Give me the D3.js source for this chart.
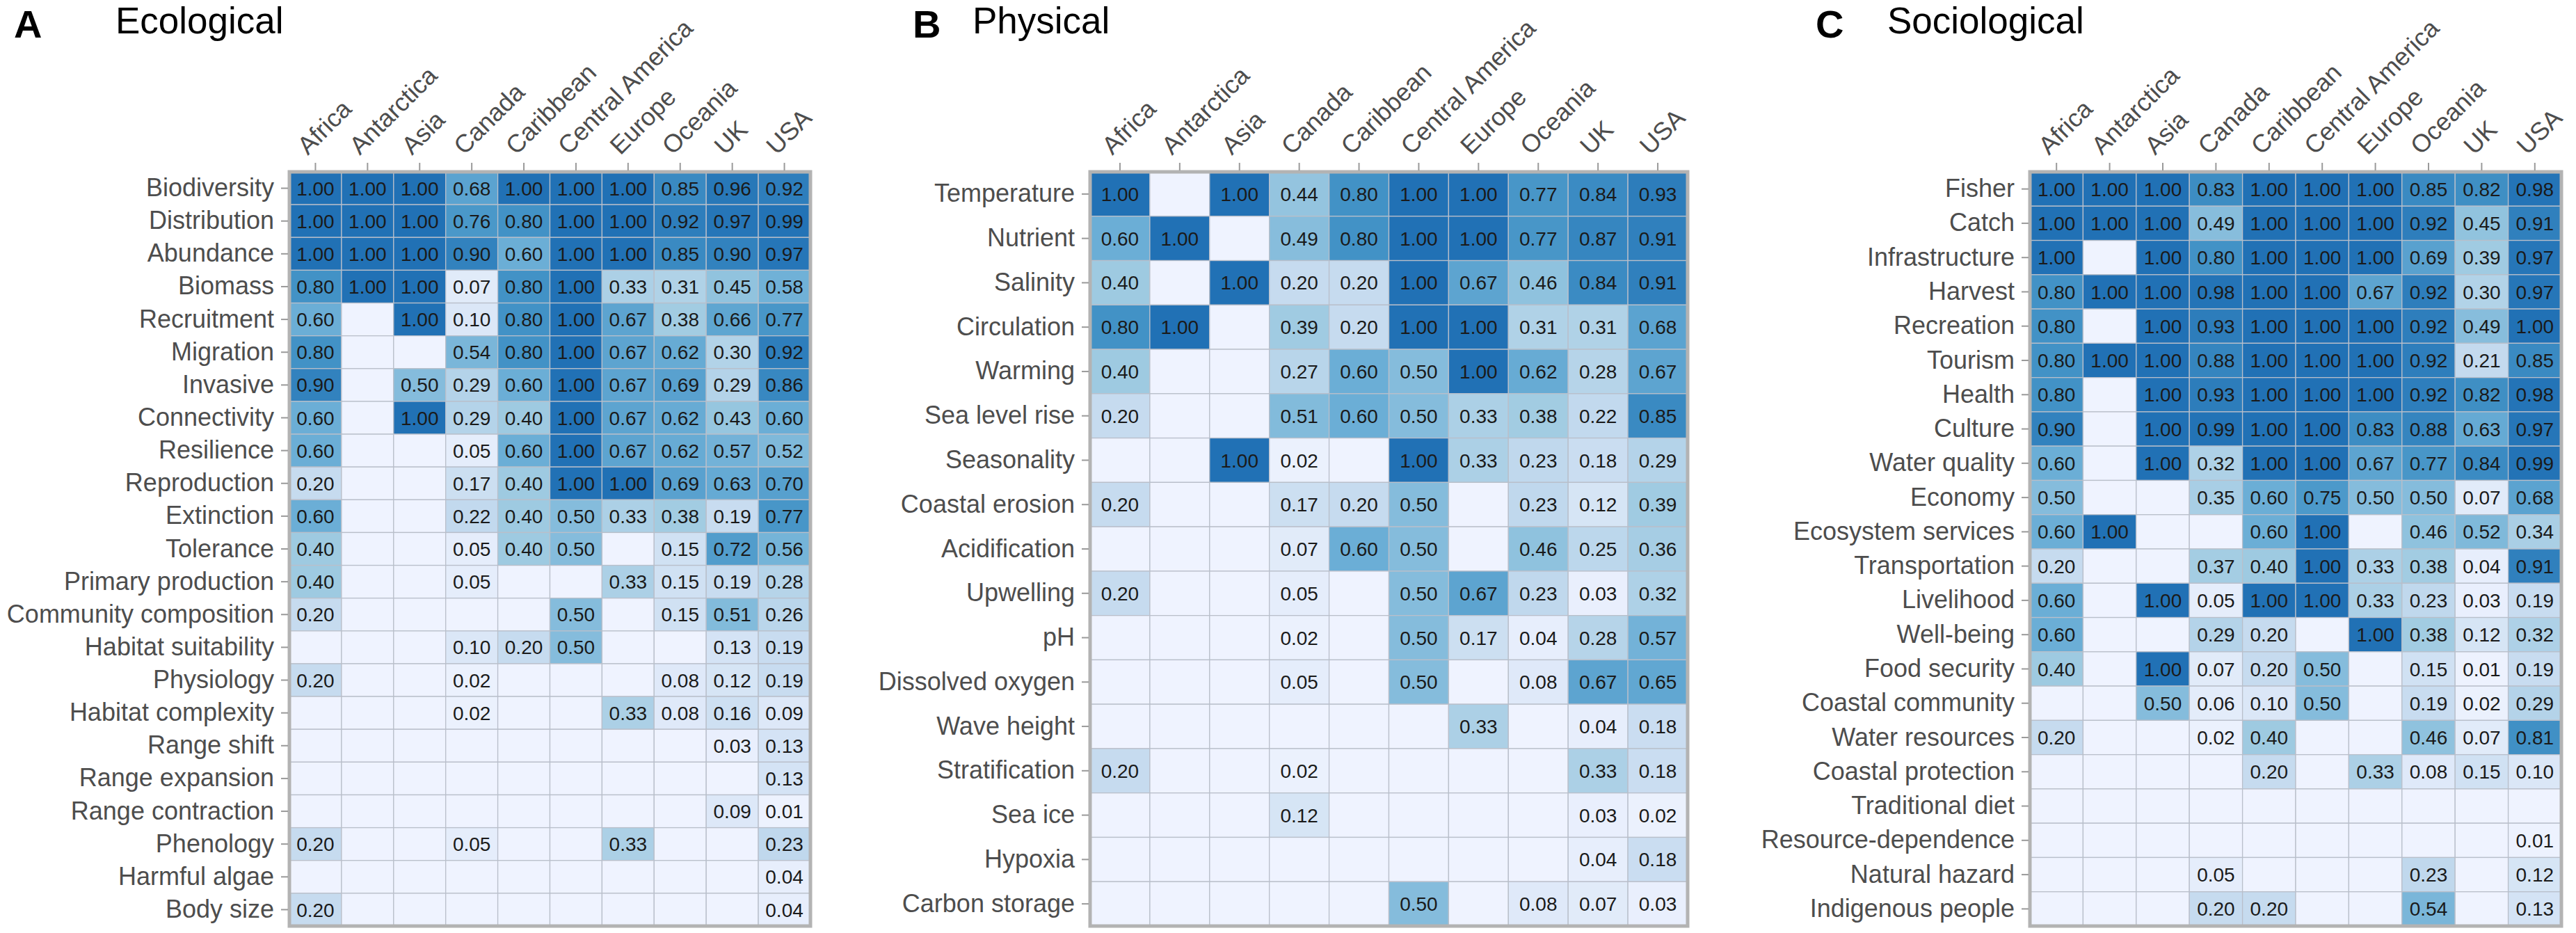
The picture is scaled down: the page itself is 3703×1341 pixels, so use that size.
<!DOCTYPE html>
<html>
<head>
<meta charset="utf-8">
<script src="https://cdn.jsdelivr.net/npm/d3@7"></script>
<style>
  body { margin: 0; background: #fff; }
  text { font-family: "Liberation Sans", Arial, sans-serif; }
</style>
</head>
<body>
<script>
const width = 3703;
const height = 1341;

// ---- data ----
const regions = ["Africa", "Antarctica", "Asia", "Canada", "Caribbean",
                 "Central America", "Europe", "Oceania", "UK", "USA"];

const ecoRows = ["Biodiversity", "Distribution", "Abundance", "Biomass", "Recruitment",
  "Migration", "Invasive", "Connectivity", "Resilience", "Reproduction", "Extinction",
  "Tolerance", "Primary production", "Community composition", "Habitat suitability",
  "Physiology", "Habitat complexity", "Range shift", "Range expansion",
  "Range contraction", "Phenology", "Harmful algae", "Body size"];
const ecoValues = [
  [1.00, 1.00, 1.00, 0.68, 1.00, 1.00, 1.00, 0.85, 0.96, 0.92],
  [1.00, 1.00, 1.00, 0.76, 0.80, 1.00, 1.00, 0.92, 0.97, 0.99],
  [1.00, 1.00, 1.00, 0.90, 0.60, 1.00, 1.00, 0.85, 0.90, 0.97],
  [0.80, 1.00, 1.00, 0.07, 0.80, 1.00, 0.33, 0.31, 0.45, 0.58],
  [0.60, null, 1.00, 0.10, 0.80, 1.00, 0.67, 0.38, 0.66, 0.77],
  [0.80, null, null, 0.54, 0.80, 1.00, 0.67, 0.62, 0.30, 0.92],
  [0.90, null, 0.50, 0.29, 0.60, 1.00, 0.67, 0.69, 0.29, 0.86],
  [0.60, null, 1.00, 0.29, 0.40, 1.00, 0.67, 0.62, 0.43, 0.60],
  [0.60, null, null, 0.05, 0.60, 1.00, 0.67, 0.62, 0.57, 0.52],
  [0.20, null, null, 0.17, 0.40, 1.00, 1.00, 0.69, 0.63, 0.70],
  [0.60, null, null, 0.22, 0.40, 0.50, 0.33, 0.38, 0.19, 0.77],
  [0.40, null, null, 0.05, 0.40, 0.50, null, 0.15, 0.72, 0.56],
  [0.40, null, null, 0.05, null, null, 0.33, 0.15, 0.19, 0.28],
  [0.20, null, null, null, null, 0.50, null, 0.15, 0.51, 0.26],
  [null, null, null, 0.10, 0.20, 0.50, null, null, 0.13, 0.19],
  [0.20, null, null, 0.02, null, null, null, 0.08, 0.12, 0.19],
  [null, null, null, 0.02, null, null, 0.33, 0.08, 0.16, 0.09],
  [null, null, null, null, null, null, null, null, 0.03, 0.13],
  [null, null, null, null, null, null, null, null, null, 0.13],
  [null, null, null, null, null, null, null, null, 0.09, 0.01],
  [0.20, null, null, 0.05, null, null, 0.33, null, null, 0.23],
  [null, null, null, null, null, null, null, null, null, 0.04],
  [0.20, null, null, null, null, null, null, null, null, 0.04]
];

const phyRows = ["Temperature", "Nutrient", "Salinity", "Circulation", "Warming",
  "Sea level rise", "Seasonality", "Coastal erosion", "Acidification", "Upwelling",
  "pH", "Dissolved oxygen", "Wave height", "Stratification", "Sea ice", "Hypoxia",
  "Carbon storage"];
const phyValues = [
  [1.00, null, 1.00, 0.44, 0.80, 1.00, 1.00, 0.77, 0.84, 0.93],
  [0.60, 1.00, null, 0.49, 0.80, 1.00, 1.00, 0.77, 0.87, 0.91],
  [0.40, null, 1.00, 0.20, 0.20, 1.00, 0.67, 0.46, 0.84, 0.91],
  [0.80, 1.00, null, 0.39, 0.20, 1.00, 1.00, 0.31, 0.31, 0.68],
  [0.40, null, null, 0.27, 0.60, 0.50, 1.00, 0.62, 0.28, 0.67],
  [0.20, null, null, 0.51, 0.60, 0.50, 0.33, 0.38, 0.22, 0.85],
  [null, null, 1.00, 0.02, null, 1.00, 0.33, 0.23, 0.18, 0.29],
  [0.20, null, null, 0.17, 0.20, 0.50, null, 0.23, 0.12, 0.39],
  [null, null, null, 0.07, 0.60, 0.50, null, 0.46, 0.25, 0.36],
  [0.20, null, null, 0.05, null, 0.50, 0.67, 0.23, 0.03, 0.32],
  [null, null, null, 0.02, null, 0.50, 0.17, 0.04, 0.28, 0.57],
  [null, null, null, 0.05, null, 0.50, null, 0.08, 0.67, 0.65],
  [null, null, null, null, null, null, 0.33, null, 0.04, 0.18],
  [0.20, null, null, 0.02, null, null, null, null, 0.33, 0.18],
  [null, null, null, 0.12, null, null, null, null, 0.03, 0.02],
  [null, null, null, null, null, null, null, null, 0.04, 0.18],
  [null, null, null, null, null, 0.50, null, 0.08, 0.07, 0.03]
];

const socRows = ["Fisher", "Catch", "Infrastructure", "Harvest", "Recreation", "Tourism",
  "Health", "Culture", "Water quality", "Economy", "Ecosystem services", "Transportation",
  "Livelihood", "Well-being", "Food security", "Coastal community", "Water resources",
  "Coastal protection", "Traditional diet", "Resource-dependence", "Natural hazard",
  "Indigenous people"];
const socValues = [
  [1.00, 1.00, 1.00, 0.83, 1.00, 1.00, 1.00, 0.85, 0.82, 0.98],
  [1.00, 1.00, 1.00, 0.49, 1.00, 1.00, 1.00, 0.92, 0.45, 0.91],
  [1.00, null, 1.00, 0.80, 1.00, 1.00, 1.00, 0.69, 0.39, 0.97],
  [0.80, 1.00, 1.00, 0.98, 1.00, 1.00, 0.67, 0.92, 0.30, 0.97],
  [0.80, null, 1.00, 0.93, 1.00, 1.00, 1.00, 0.92, 0.49, 1.00],
  [0.80, 1.00, 1.00, 0.88, 1.00, 1.00, 1.00, 0.92, 0.21, 0.85],
  [0.80, null, 1.00, 0.93, 1.00, 1.00, 1.00, 0.92, 0.82, 0.98],
  [0.90, null, 1.00, 0.99, 1.00, 1.00, 0.83, 0.88, 0.63, 0.97],
  [0.60, null, 1.00, 0.32, 1.00, 1.00, 0.67, 0.77, 0.84, 0.99],
  [0.50, null, null, 0.35, 0.60, 0.75, 0.50, 0.50, 0.07, 0.68],
  [0.60, 1.00, null, null, 0.60, 1.00, null, 0.46, 0.52, 0.34],
  [0.20, null, null, 0.37, 0.40, 1.00, 0.33, 0.38, 0.04, 0.91],
  [0.60, null, 1.00, 0.05, 1.00, 1.00, 0.33, 0.23, 0.03, 0.19],
  [0.60, null, null, 0.29, 0.20, null, 1.00, 0.38, 0.12, 0.32],
  [0.40, null, 1.00, 0.07, 0.20, 0.50, null, 0.15, 0.01, 0.19],
  [null, null, 0.50, 0.06, 0.10, 0.50, null, 0.19, 0.02, 0.29],
  [0.20, null, null, 0.02, 0.40, null, null, 0.46, 0.07, 0.81],
  [null, null, null, null, 0.20, null, 0.33, 0.08, 0.15, 0.10],
  [null, null, null, null, null, null, null, null, null, null],
  [null, null, null, null, null, null, null, null, null, 0.01],
  [null, null, null, 0.05, null, null, null, 0.23, null, 0.12],
  [null, null, null, 0.20, 0.20, null, null, 0.54, null, 0.13]
];

// ---- layout ----
const gridTop = 247;
const gridBottom = 1331;
const panels = [
  {tag: "A", title: "Ecological",   tagX: 20,   titleX: 166,  x0: 416,  x1: 1165, rows: ecoRows, values: ecoValues},
  {tag: "B", title: "Physical",     tagX: 1312, titleX: 1398, x0: 1567, x1: 2426, rows: phyRows, values: phyValues},
  {tag: "C", title: "Sociological", tagX: 2610, titleX: 2713, x0: 2918, x1: 3682, rows: socRows, values: socValues}
];

// Blues-like ramp
const emptyFill = "#eff3ff";
const color = d3.scaleLinear()
  .domain([0, 0.2, 0.4, 0.6, 0.8, 1])
  .range(["#eff3ff", "#c6dbef", "#9ecae1", "#6baed6", "#4292c6", "#2171b5"]);
const fmt = d3.format(".2f");

const svg = d3.select('body')
  .append('svg')
  .attr("width", width)
  .attr("height", height);

svg.append('rect').attr('width', width).attr('height', height).attr('fill', '#fff');

const drawPanel = (p) => {
  const g = svg.append('g');

  const x = d3.scaleBand().domain(regions).range([p.x0, p.x1]);
  const y = d3.scaleBand().domain(p.rows).range([gridTop, gridBottom]);

  const cells = p.rows.flatMap((r, i) =>
    regions.map((c, j) => ({row: r, col: c, v: p.values[i][j]})));

  g.append('g')
    .selectAll('rect')
    .data(cells)
    .join('rect')
      .attr('x', d => x(d.col))
      .attr('y', d => y(d.row))
      .attr('width', x.bandwidth())
      .attr('height', y.bandwidth())
      .attr('fill', d => d.v == null ? emptyFill : color(d.v))
      .attr('stroke', '#b9bfca')
      .attr('stroke-width', 1.3);

  g.append('g')
    .selectAll('text')
    .data(cells.filter(d => d.v != null))
    .join('text')
      .attr('x', d => x(d.col) + x.bandwidth() / 2)
      .attr('y', d => y(d.row) + y.bandwidth() / 2)
      .attr('dy', '0.36em')
      .attr('text-anchor', 'middle')
      .attr('font-size', 28)
      .attr('fill', '#1a1a1a')
      .text(d => fmt(d.v));

  // panel border
  g.append('rect')
    .attr('x', p.x0)
    .attr('y', gridTop)
    .attr('width', p.x1 - p.x0)
    .attr('height', gridBottom - gridTop)
    .attr('fill', 'none')
    .attr('stroke', '#b3b3b3')
    .attr('stroke-width', 5);

  // row axis
  const yAxis = g.append('g')
    .attr('transform', `translate(${p.x0 - 2},0)`)
    .call(d3.axisLeft(y).tickSize(10).tickPadding(10));
  yAxis.select('.domain').remove();
  yAxis.selectAll('line').attr('stroke', '#9a9a9a').attr('stroke-width', 2);
  yAxis.selectAll('text')
    .attr('font-size', 36)
    .attr('font-family', '"Liberation Sans", Arial, sans-serif')
    .attr('fill', '#4d4d4d');

  // column axis
  const xAxis = g.append('g')
    .attr('transform', `translate(0,${gridTop - 2})`)
    .call(d3.axisTop(x).tickSize(11));
  xAxis.select('.domain').remove();
  xAxis.selectAll('line').attr('stroke', '#9a9a9a').attr('stroke-width', 2);
  xAxis.selectAll('text')
    .attr('x', 0)
    .attr('y', 0)
    .attr('dy', 0)
    .attr('text-anchor', 'start')
    .attr('transform', 'translate(-11,-21) rotate(-45)')
    .attr('font-size', 36)
    .attr('font-family', '"Liberation Sans", Arial, sans-serif')
    .attr('fill', '#4d4d4d');

  // tag + title
  g.append('text')
    .attr('x', p.tagX)
    .attr('y', 54)
    .attr('font-size', 56)
    .attr('font-weight', 'bold')
    .attr('fill', '#000')
    .text(p.tag);
  g.append('text')
    .attr('x', p.titleX)
    .attr('y', 48)
    .attr('font-size', 53)
    .attr('fill', '#000')
    .text(p.title);
};

panels.forEach(drawPanel);
</script>
</body>
</html>
